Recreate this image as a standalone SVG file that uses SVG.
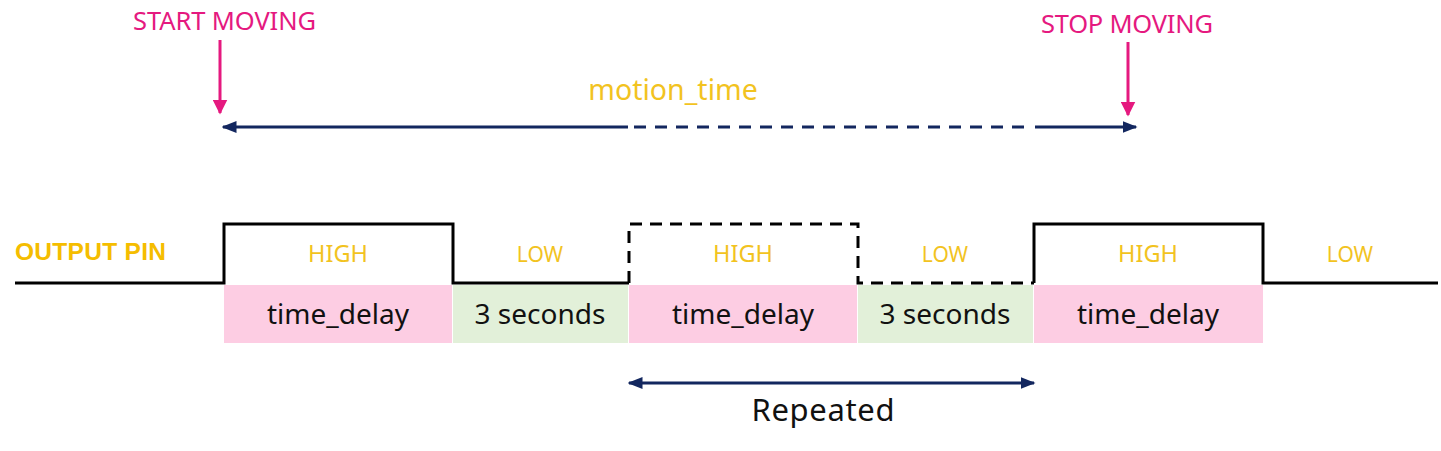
<svg xmlns="http://www.w3.org/2000/svg" width="1441" height="451" viewBox="0 0 1441 451">
<style>
.pink{fill:#fdcde3}
.green{fill:#e2f0d9}
.lvl{font-family:"Noto Sans","Liberation Sans",sans-serif;fill:#f2c31f;text-anchor:middle}
.box{font-family:"Noto Sans","Liberation Sans",sans-serif;font-size:28px;fill:#111;text-anchor:middle}
.ev{font-family:"Noto Sans","Liberation Sans",sans-serif;font-size:25.5px;fill:#e5197f}
.wave{fill:none;stroke:#000;stroke-width:3}
.dash{stroke-dasharray:12,8}
.navy{stroke:#13275f;stroke-width:3;fill:none}
</style>
<defs>
<marker id="ah" viewBox="0 0 10 10" refX="9" refY="5" markerWidth="5" markerHeight="5" orient="auto-start-reverse" markerUnits="strokeWidth"><path d="M0,1 L10,5 L0,9 z" fill="#13275f"/></marker>
<marker id="ahp" viewBox="0 0 10 10" refX="9" refY="5" markerWidth="5" markerHeight="5" orient="auto" markerUnits="strokeWidth"><path d="M0,0 L10,5 L0,10 z" fill="#e5197f"/></marker>
</defs>

<g id="start-moving">
<text class="ev" x="133" y="30" textLength="183">START MOVING</text>
<line x1="220" y1="40" x2="220" y2="113" stroke="#e5197f" stroke-width="3" marker-end="url(#ahp)"/>
</g>
<g id="stop-moving">
<text class="ev" x="1041" y="33" textLength="172">STOP MOVING</text>
<line x1="1128" y1="42" x2="1128" y2="115" stroke="#e5197f" stroke-width="3" marker-end="url(#ahp)"/>
</g>

<g id="motion-time">
<text x="673" y="100" style="font-family:'Noto Sans','Liberation Sans',sans-serif;font-size:28.5px;fill:#f2c31f;text-anchor:middle">motion_time</text>
</g>

<g id="connectors">
<line class="navy" x1="628" y1="127" x2="223" y2="127" marker-end="url(#ah)"/>
<line class="navy" x1="634" y1="127" x2="1030" y2="127" stroke-dasharray="12,9"/>
<line class="navy" x1="1035" y1="127" x2="1136" y2="127" marker-end="url(#ah)"/>
<line class="navy" x1="629" y1="383" x2="1034" y2="383" marker-start="url(#ah)" marker-end="url(#ah)"/>
</g>

<g id="output-pin">
<text x="15" y="260" textLength="151" style="font-family:'Liberation Sans',Arial,sans-serif;font-weight:bold;font-size:24.5px;fill:#f5bd00">OUTPUT PIN</text>
</g>

<g id="cells">
<rect class="pink" x="224" y="285" width="228" height="58"/>
<rect class="green" x="453" y="285" width="175" height="58"/>
<rect class="pink" x="629" y="285" width="228" height="58"/>
<rect class="green" x="858" y="285" width="175" height="58"/>
<rect class="pink" x="1034" y="285" width="229" height="58"/>
<text class="box" x="338" y="324">time_delay</text>
<text class="box" x="540" y="324" font-size="29.5">3 seconds</text>
<text class="box" x="743" y="324">time_delay</text>
<text class="box" x="945" y="324" font-size="29.5">3 seconds</text>
<text class="box" x="1148" y="324">time_delay</text>
</g>

<g id="waveform">
<polyline class="wave" points="15,283 224,283 224,224 453,224 453,283 629,283"/>
<polyline class="wave dash" points="629,283 629,224 858,224 858,283 1034,283"/>
<polyline class="wave" points="1034,283 1034,224 1263,224 1263,283 1438,283"/>
<text class="lvl" x="338" y="262" font-size="23.5">HIGH</text>
<text class="lvl" x="540" y="262" font-size="21">LOW</text>
<text class="lvl" x="743" y="262" font-size="23.5">HIGH</text>
<text class="lvl" x="945" y="262" font-size="21">LOW</text>
<text class="lvl" x="1148" y="262" font-size="23.5">HIGH</text>
<text class="lvl" x="1350" y="262" font-size="21">LOW</text>
</g>

<g id="repeated">
<text x="823" y="421" style="font-family:'Noto Sans','Liberation Sans',sans-serif;font-size:31px;fill:#111;text-anchor:middle" textLength="143">Repeated</text>
</g>
</svg>
